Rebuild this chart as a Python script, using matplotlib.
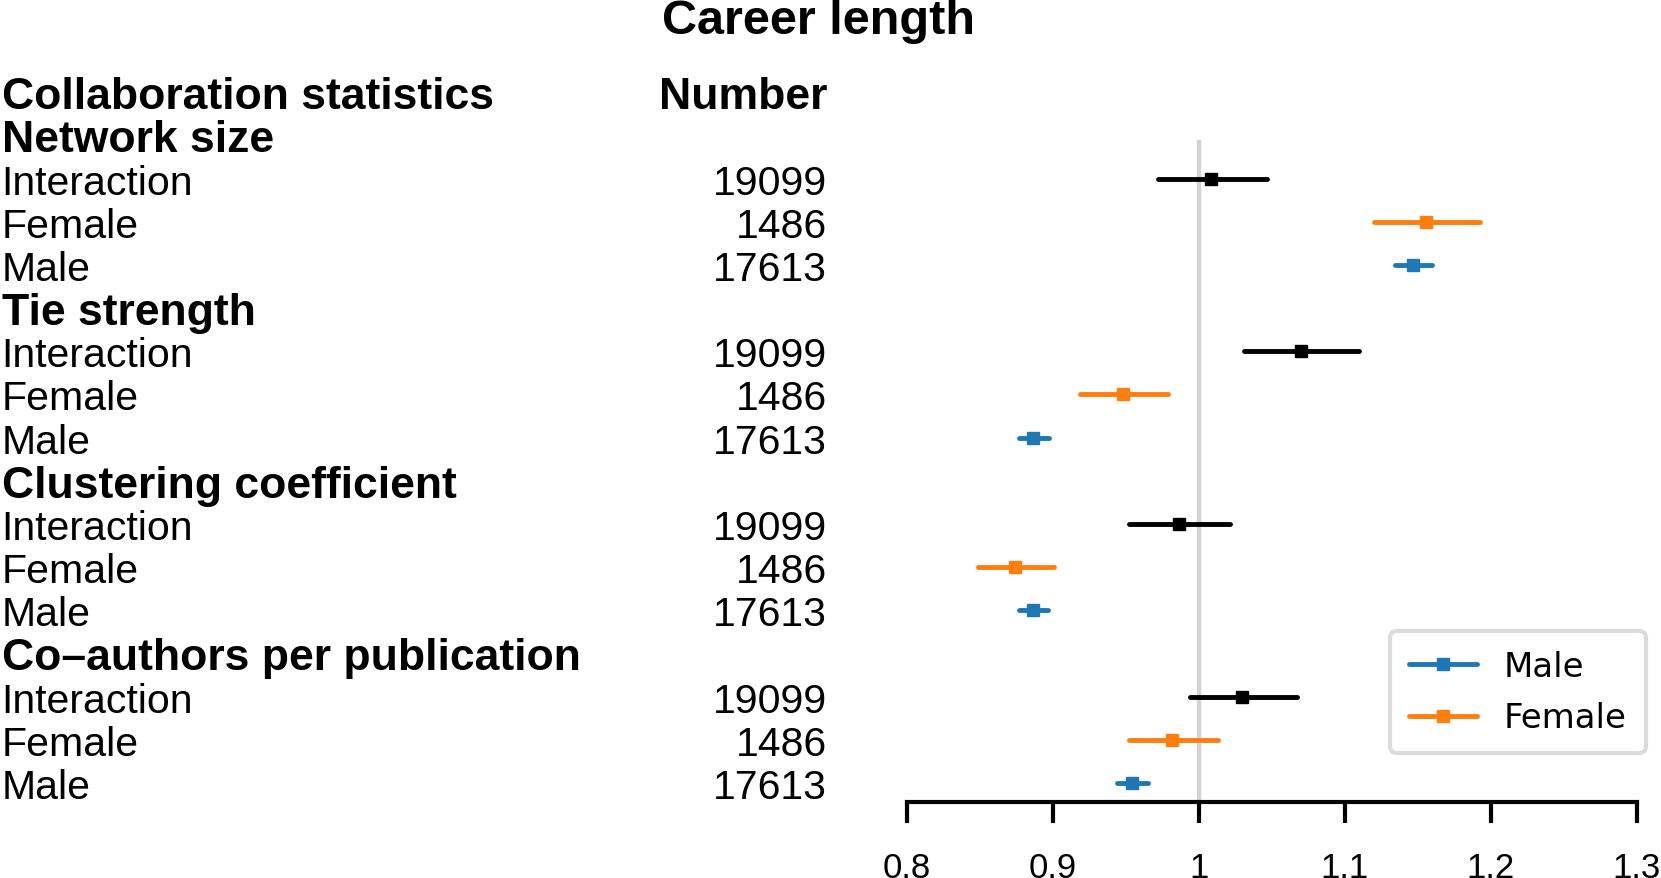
import matplotlib
matplotlib.use('Agg')
import matplotlib.pyplot as plt
from matplotlib.lines import Line2D
from matplotlib.transforms import blended_transform_factory

# Data
sections = ['Network size', 'Tie strength', 'Clustering coefficient', 'Co–authors per publication']
groups = ['Interaction', 'Female', 'Male']
counts = [19099, 1486, 17613]

interaction_est = [1.0085, 1.0698, 0.9864, 1.0297]
interaction_lo = [0.9718, 1.0313, 0.9522, 0.9938]
interaction_hi = [1.0470, 1.1100, 1.0216, 1.0675]

female_est = [1.156, 0.948, 0.8741, 0.982]
female_lo = [1.120, 0.9185, 0.8486, 0.9522]
female_hi = [1.193, 0.9788, 0.9008, 1.0131]

male_est = [1.147, 0.8868, 0.8868, 0.9542]
male_lo = [1.1347, 0.877, 0.877, 0.9439]
male_hi = [1.160, 0.8972, 0.8970, 0.9654]

xticks = [0.8, 0.9, 1.0, 1.1, 1.2, 1.3]
xticklabels = ['0.8', '0.9', '1', '1.1', '1.2', '1.3']

colors = {'Interaction': 'black', 'Female': '#ff7f0e', 'Male': '#1f77b4'}
est = {'Interaction': interaction_est, 'Female': female_est, 'Male': male_est}
lo = {'Interaction': interaction_lo, 'Female': female_lo, 'Male': male_lo}
hi = {'Interaction': interaction_hi, 'Female': female_hi, 'Male': male_hi}

W, H = 1661, 879
fig = plt.figure(figsize=(W / 100, H / 100), dpi=100)
ax = fig.add_axes([906.8 / W, 76 / H, (1636.6 - 906.8) / W, 1 - 76 / H])
ax.set_xlim(0.8, 1.3)
ax.set_ylim(16.44, -2.16)

font = 'Liberation Sans'
fs = 29.5
fs_bold = 32
lw = 3.5
ms = 8.5
tr = blended_transform_factory(fig.transFigure, ax.transData)

# reference line at 1
ax.plot([1, 1], [1.15, 16.44], color='#d3d3d3', lw=3.2, zorder=1, clip_on=False)

# column headers
ax.text(0.001, 0, 'Collaboration statistics', transform=tr, fontsize=fs_bold, fontweight='bold',
        family=font, ha='left', va='center_baseline')
ax.text(827 / W, 0, 'Number', transform=tr, fontsize=fs_bold, fontweight='bold',
        family=font, ha='right', va='center_baseline')

row = 1
for s, section in enumerate(sections):
    ax.text(0.001, row, section, transform=tr, fontsize=fs_bold, fontweight='bold',
            family=font, ha='left', va='center_baseline')
    row += 1
    for g, group in enumerate(groups):
        ax.text(0.001, row, group, transform=tr, fontsize=fs, family=font,
                ha='left', va='center_baseline')
        ax.text(827 / W, row, str(counts[g]), transform=tr, fontsize=fs, family=font,
                ha='right', va='center_baseline')
        c = colors[group]
        ax.plot([lo[group][s], hi[group][s]], [row, row], color=c, lw=lw,
                solid_capstyle='round', zorder=3)
        ax.plot(est[group][s], row, marker='s', color=c, markersize=ms, zorder=4)
        row += 1

fig.text(819 / W, 1 - 21 / H, 'Career length', fontsize=35, fontweight='bold',
         family=font, ha='center', va='center')

# axis styling
for side in ['top', 'right', 'left']:
    ax.spines[side].set_visible(False)
ax.spines['bottom'].set_linewidth(3)
ax.spines['bottom'].set_capstyle('projecting')
ax.set_yticks([])
ax.set_xticks(xticks)
ax.set_xticklabels(xticklabels, family=font, fontsize=25)
ax.tick_params(axis='x', direction='out', length=15, width=3, pad=20)
ax.patch.set_visible(False)

handles = [
    Line2D([], [], color=colors['Male'], marker='s', lw=lw, markersize=ms,
           solid_capstyle='round'),
    Line2D([], [], color=colors['Female'], marker='s', lw=lw, markersize=ms,
           solid_capstyle='round'),
]
leg = fig.legend(handles, ['Male', 'Female'], loc='upper left',
                 bbox_to_anchor=(1390 / W, 1 - 632 / H), borderaxespad=0,
                 prop={'family': 'DejaVu Sans', 'size': 24.5}, fancybox=True,
                 labelspacing=0.55, borderpad=0.55, handletextpad=0.8)
leg.get_frame().set_edgecolor('#d3d3d3')
leg.get_frame().set_linewidth(3)

fig.savefig('out.png', dpi=100)
